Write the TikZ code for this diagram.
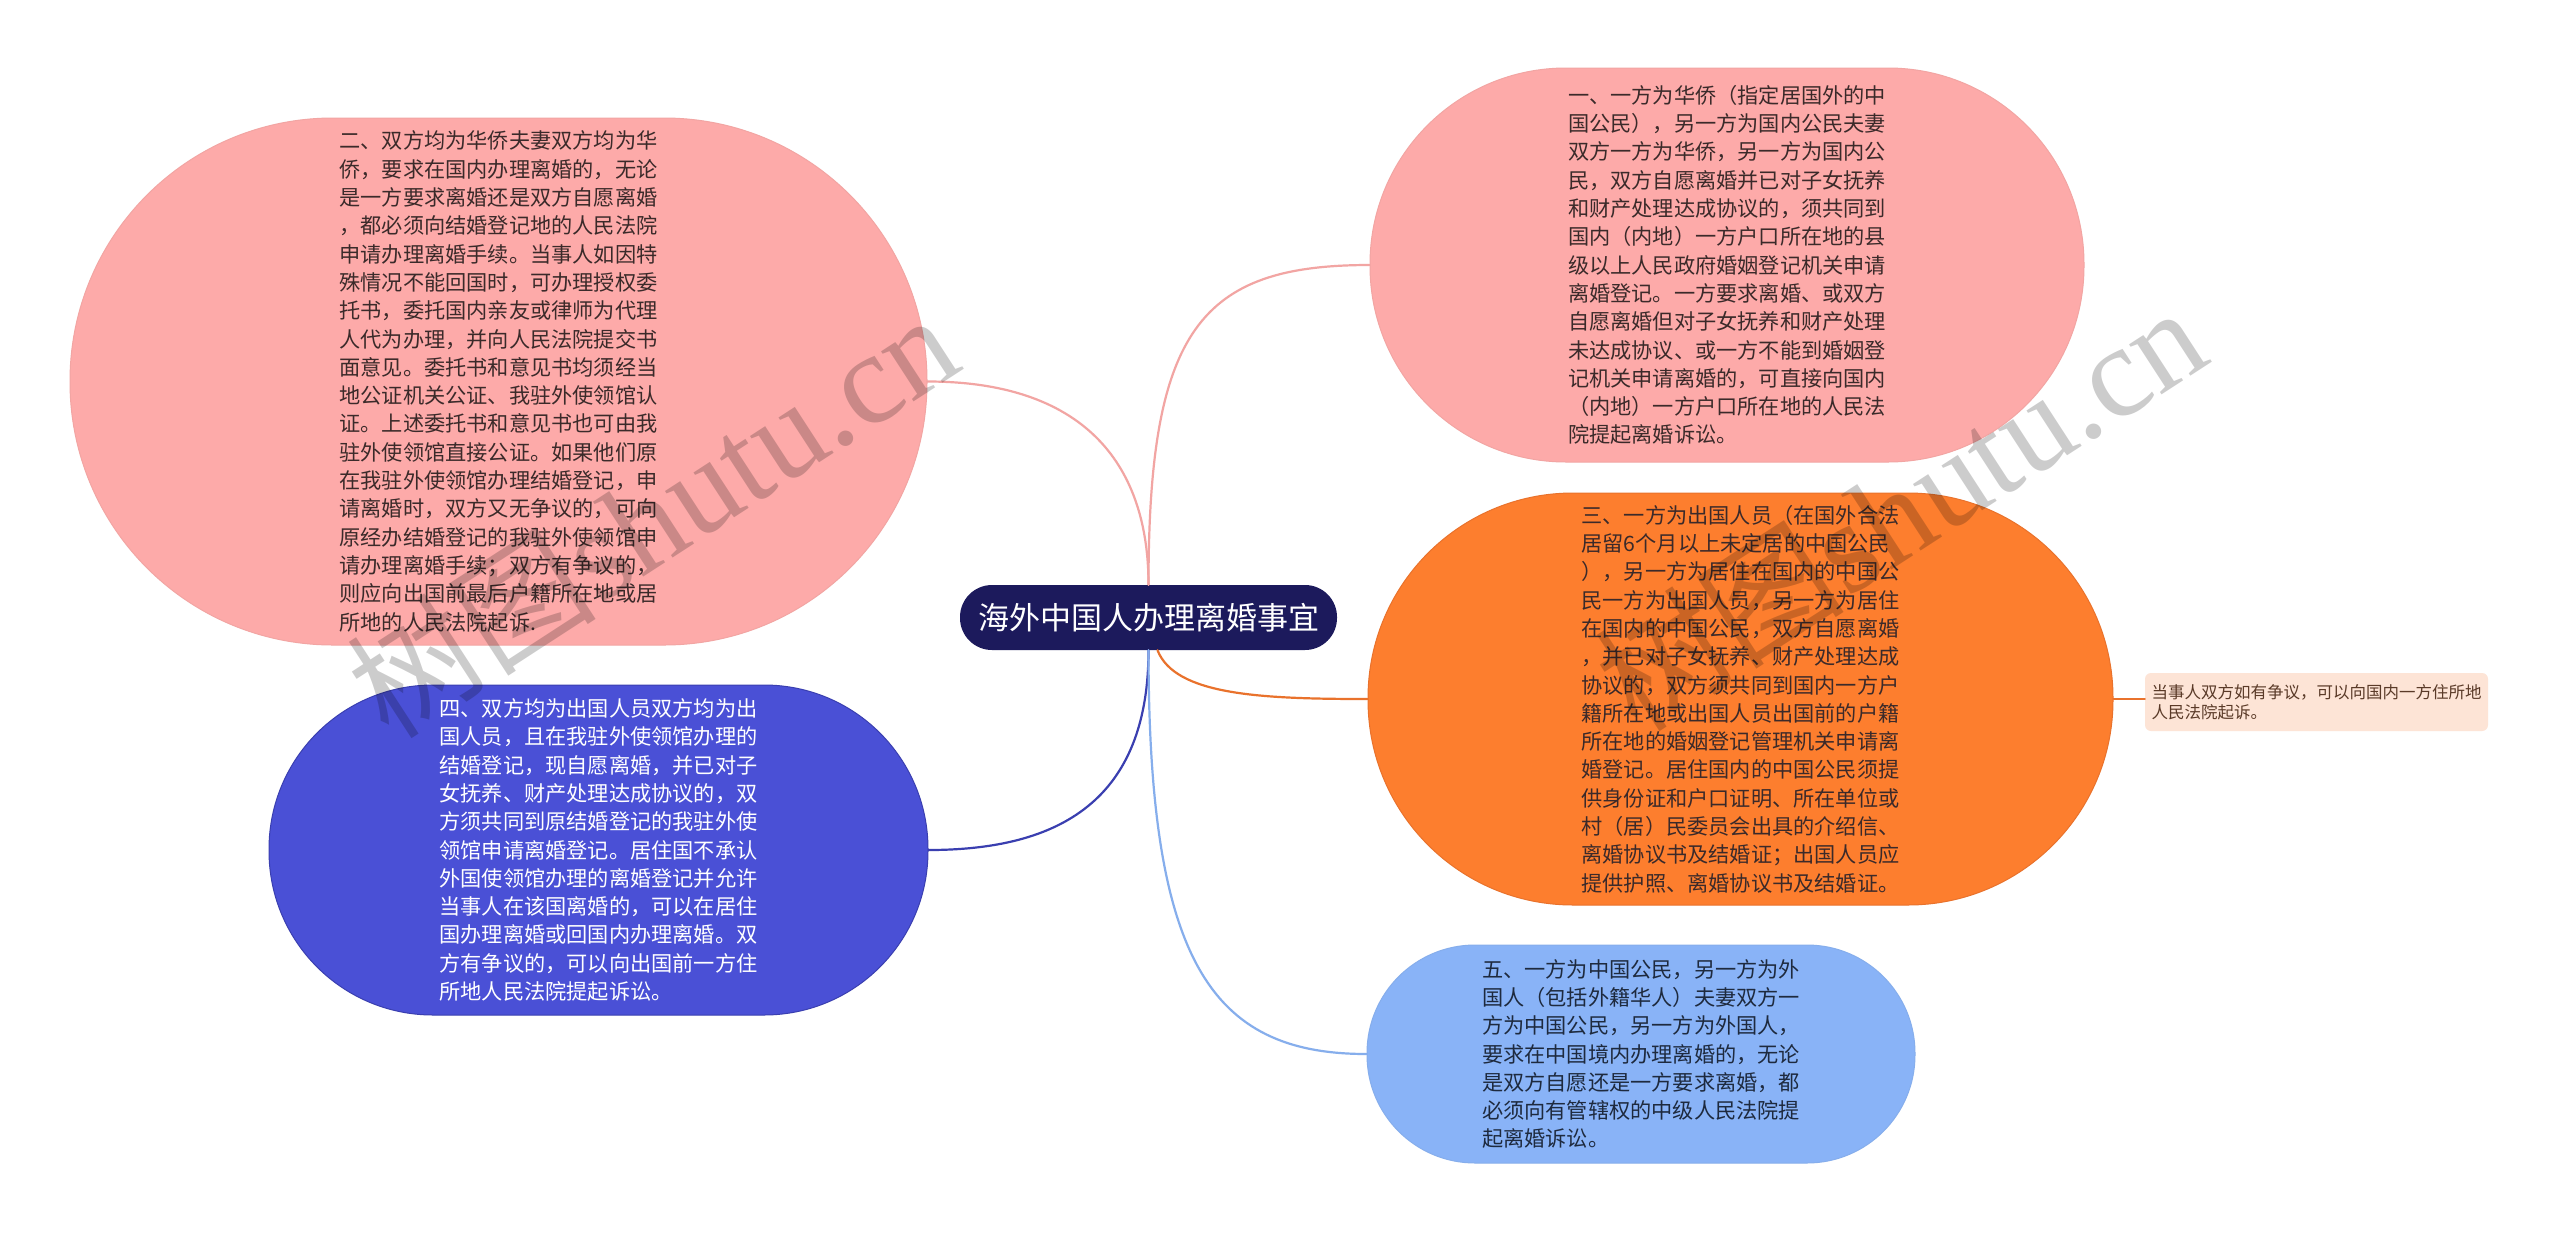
\documentclass[tikz,border=0pt]{standalone}
\usepackage{fontspec}
\newfontfamily\cjk{Noto Sans CJK SC}
\newfontfamily\wmfont{Liberation Serif}
\definecolor{pinkfill}{HTML}{FDAAA9}
\definecolor{pinkline}{HTML}{F2A5A3}
\definecolor{orangefill}{HTML}{FD7E2E}
\definecolor{orangeline}{HTML}{E9722C}
\definecolor{bluefill}{HTML}{4A50D6}
\definecolor{blueline}{HTML}{3A3FB0}
\definecolor{lbluefill}{HTML}{89B3F7}
\definecolor{lblueline}{HTML}{86AEEC}
\definecolor{navyfill}{HTML}{1C1A5C}
\definecolor{peachfill}{HTML}{FDE4D6}
\definecolor{darktext}{HTML}{3B2A2A}
\definecolor{browntext}{HTML}{5A3A28}
\definecolor{bluetext}{HTML}{1E2A3E}
\begin{document}
\begin{tikzpicture}[x=1pt,y=-1pt,
  blob/.style={inner sep=0pt, align=left, font=\cjk\fontsize{21.2}{28.3}\selectfont},
  root/.style={inner sep=0pt, fill=navyfill, text=white, minimum width=377, minimum height=65, rounded corners=32, font=\cjk\fontsize{31}{36}\selectfont},
  leafbox/.style={inner sep=0pt, fill=peachfill, text=browntext, minimum width=343, minimum height=58, rounded corners=6, align=left, font=\cjk\fontsize{16.5}{20}\selectfont},
  conn/.style={line width=2.2pt, line cap=round},
  wmark/.style={text=black, text opacity=0.2, rotate=33, inner sep=0pt}
]
\fill[white] (0,0) rectangle (2560,1235);
\useasboundingbox (0,0) rectangle (2560,1235);

% nodes
\node[root] (c) at (1148.5,617.5) {海外中国人办理离婚事宜};

\node[blob, fill=pinkfill, draw=pinkline, line width=1pt, text=darktext, minimum width=714, minimum height=394, rounded corners=196] (n1) at (1727,265) {一、一方为华侨（指定居国外的中\\国公民），另一方为国内公民夫妻\\双方一方为华侨，另一方为国内公\\民，双方自愿离婚并已对子女抚养\\和财产处理达成协议的，须共同到\\国内（内地）一方户口所在地的县\\级以上人民政府婚姻登记机关申请\\离婚登记。一方要求离婚、或双方\\自愿离婚但对子女抚养和财产处理\\未达成协议、或一方不能到婚姻登\\记机关申请离婚的，可直接向国内\\（内地）一方户口所在地的人民法\\院提起离婚诉讼。};

\node[blob, fill=pinkfill, draw=pinkline, line width=1pt, text=darktext, minimum width=857, minimum height=527, rounded corners=263] (n2) at (498.5,381.5) {二、双方均为华侨夫妻双方均为华\\侨，要求在国内办理离婚的，无论\\是一方要求离婚还是双方自愿离婚\\，都必须向结婚登记地的人民法院\\申请办理离婚手续。当事人如因特\\殊情况不能回国时，可办理授权委\\托书，委托国内亲友或律师为代理\\人代为办理，并向人民法院提交书\\面意见。委托书和意见书均须经当\\地公证机关公证、我驻外使领馆认\\证。上述委托书和意见书也可由我\\驻外使领馆直接公证。如果他们原\\在我驻外使领馆办理结婚登记，申\\请离婚时，双方又无争议的，可向\\原经办结婚登记的我驻外使领馆申\\请办理离婚手续；双方有争议的，\\则应向出国前最后户籍所在地或居\\所地的人民法院起诉.};

\node[blob, fill=orangefill, draw=orangeline, line width=1pt, text=darktext, minimum width=745, minimum height=412, rounded corners=205] (n3) at (1740.5,699) {三、一方为出国人员（在国外合法\\居留6个月以上未定居的中国公民\\），另一方为居住在国内的中国公\\民一方为出国人员，另一方为居住\\在国内的中国公民，双方自愿离婚\\，并已对子女抚养、财产处理达成\\协议的，双方须共同到国内一方户\\籍所在地或出国人员出国前的户籍\\所在地的婚姻登记管理机关申请离\\婚登记。居住国内的中国公民须提\\供身份证和户口证明、所在单位或\\村（居）民委员会出具的介绍信、\\离婚协议书及结婚证；出国人员应\\提供护照、离婚协议书及结婚证。};

\node[blob, fill=bluefill, draw=blueline, line width=1pt, text=white, minimum width=659, minimum height=330, rounded corners=164] (n4) at (598.5,850) {四、双方均为出国人员双方均为出\\国人员，且在我驻外使领馆办理的\\结婚登记，现自愿离婚，并已对子\\女抚养、财产处理达成协议的，双\\方须共同到原结婚登记的我驻外使\\领馆申请离婚登记。居住国不承认\\外国使领馆办理的离婚登记并允许\\当事人在该国离婚的，可以在居住\\国办理离婚或回国内办理离婚。双\\方有争议的，可以向出国前一方住\\所地人民法院提起诉讼。};

\node[blob, fill=lbluefill, draw=lblueline, line width=1pt, text=bluetext, minimum width=548, minimum height=218, rounded corners=108] (n5) at (1641,1054) {五、一方为中国公民，另一方为外\\国人（包括外籍华人）夫妻双方一\\方为中国公民，另一方为外国人，\\要求在中国境内办理离婚的，无论\\是双方自愿还是一方要求离婚，都\\必须向有管辖权的中级人民法院提\\起离婚诉讼。};

\node[leafbox] (n6) at (2316.5,702) {当事人双方如有争议，可以向国内一方住所地\\人民法院起诉。};

% connectors
\draw[conn, pinkline] (c.north) .. controls (1148.5,330) and (1200,265) .. (n1.west);
\draw[conn, pinkline] (c.north) .. controls (1148.5,460) and (1080,381.5) .. (n2.east);
\draw[conn, orangeline] ([xshift=9pt]c.south) .. controls (1175,695) and (1260,699) .. (n3.west);
\draw[conn, blueline] (c.south) .. controls (1148.5,800) and (1060,850) .. (n4.east);
\draw[conn, lblueline] (c.south) .. controls (1148.5,960) and (1210,1054) .. (n5.west);
\draw[conn, orangeline] (n3.east) -- (n3.east -| n6.west);

% watermarks
\node[wmark] (w1) at (652,515) {{\cjk\fontsize{125}{130}\selectfont 树图}{\wmfont\fontsize{130}{130}\selectfont shutu.cn}};
\node[wmark] (w2) at (1900,508) {{\cjk\fontsize{125}{130}\selectfont 树图}{\wmfont\fontsize{130}{130}\selectfont shutu.cn}};
\end{tikzpicture}
\end{document}
